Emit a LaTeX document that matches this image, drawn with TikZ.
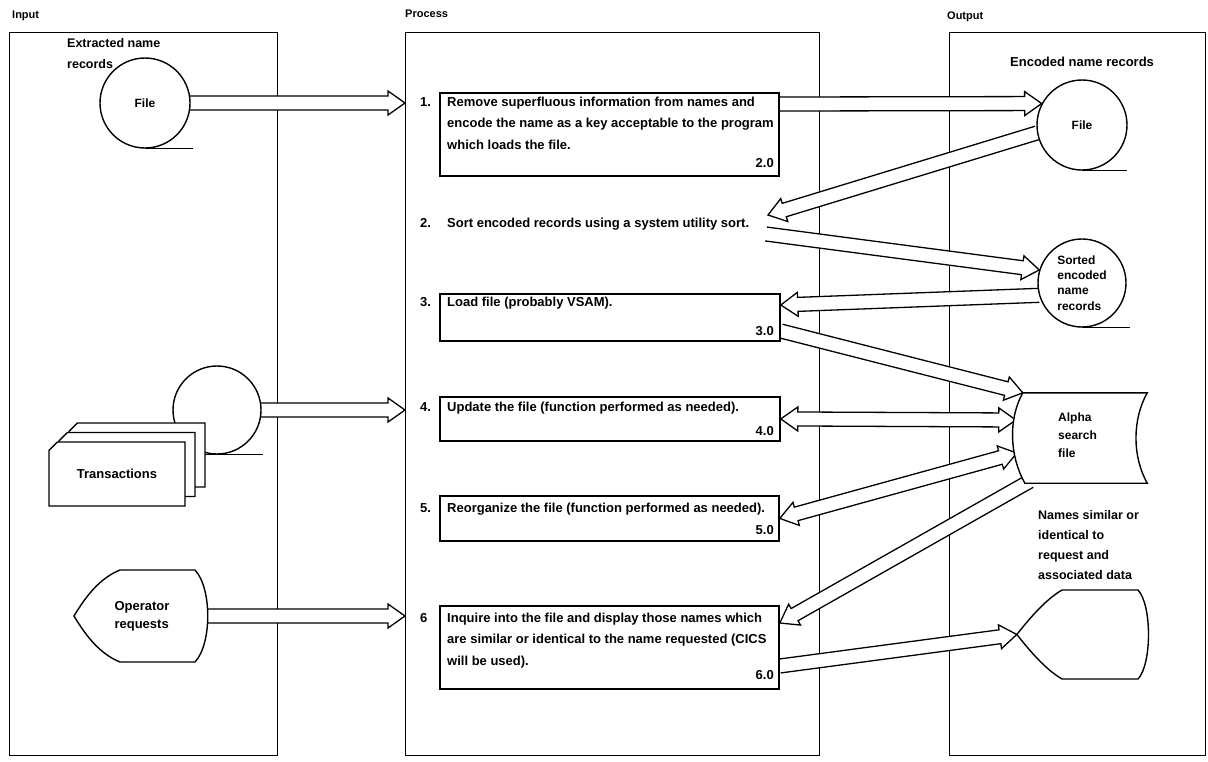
\documentclass[tikz,border=0pt]{standalone}
\usepackage{fontspec}
\setmainfont{Liberation Sans}
\usetikzlibrary{calc,positioning,shapes.misc,shadows,backgrounds}

% hollow arrow from #1 to tip #2
\newcommand{\fatarrow}[2]{%
  \draw[fatline] ($(#1)!7pt!90:(#2)$) -- ($($(#2)!17pt!(#1)$)!7pt!90:(#2)$)
    -- ($($(#2)!17pt!(#1)$)!12pt!90:(#2)$) -- (#2)
    -- ($($(#2)!17pt!(#1)$)!12pt!-90:(#2)$) -- ($($(#2)!17pt!(#1)$)!7pt!-90:(#2)$)
    -- ($(#1)!7pt!-90:(#2)$);}
% hollow arrow with a head at both ends
\newcommand{\fatarrows}[2]{%
  \draw[fatline] (#1) -- ($($(#1)!17pt!(#2)$)!12pt!90:(#2)$) -- ($($(#1)!17pt!(#2)$)!7pt!90:(#2)$)
    -- ($($(#2)!17pt!(#1)$)!7pt!90:(#2)$) -- ($($(#2)!17pt!(#1)$)!12pt!90:(#2)$) -- (#2)
    -- ($($(#2)!17pt!(#1)$)!12pt!-90:(#2)$) -- ($($(#2)!17pt!(#1)$)!7pt!-90:(#2)$)
    -- ($($(#1)!17pt!(#2)$)!7pt!-90:(#2)$) -- ($($(#1)!17pt!(#2)$)!12pt!-90:(#2)$) -- cycle;}

\begin{document}
\begin{tikzpicture}[x=1pt, y=-1pt,
    panel/.style={draw, line width=1.4pt, anchor=north west, inner sep=0pt},
    procbox/.style={draw, line width=1.8pt, fill=white, anchor=north west, inner sep=0pt},
    txt/.style={font=\fontsize{13}{21.5}\selectfont\bfseries, inner sep=0pt, anchor=base west, align=left},
    title/.style={font=\fontsize{11}{13}\selectfont\bfseries, inner sep=0pt, anchor=base west},
    store/.style={draw, circle, line width=1.4pt, fill=white, inner sep=0pt, align=left,
      font=\fontsize{12}{15.3}\selectfont\bfseries},
    tape/.style={line width=1.4pt},
    outline/.style={draw, line width=1.4pt, fill=white},
    fatline/.style={draw, line width=1.3pt, fill=white, line join=miter},
    card/.style={draw, fill=white, line width=1.4pt, chamfered rectangle,
      chamfered rectangle corners=north west, chamfered rectangle xsep=10pt,
      minimum width=136pt, minimum height=64pt, inner sep=0pt,
      font=\fontsize{13}{15}\selectfont\bfseries}]
  \useasboundingbox (0,0) rectangle (1208,761);

  % columns
  \begin{scope}[on background layer]
    \node[panel, minimum width=268pt, minimum height=723pt] (inp) at (9,32) {};
    \node[panel, minimum width=414pt, minimum height=723pt] (prc) at (405,32) {};
    \node[panel, minimum width=256pt, minimum height=723pt] (outp) at (949,32) {};
  \end{scope}
  \node[title] at (12,18) {Input};
  \node[title] at (405,17) {Process};
  \node[title] at (947,19) {Output};

  % input side
  \node[store, minimum size=90pt] (fi) at (145,103) {File};
  \draw[tape] (fi.south) -- ++(48,0);
  \node[txt, font=\fontsize{12.5}{21}\selectfont\bfseries] at (67,68) {Extracted name\\records};

  \node[store, minimum size=88pt] (tf) at (217,410) {};
  \draw[tape] ([xshift=-14pt]tf.south) -- ++(60,0);
  \node[card, copy shadow={shadow xshift=20pt, shadow yshift=19pt, fill=white, draw, line width=1.4pt},
    copy shadow={shadow xshift=10pt, shadow yshift=9.5pt, fill=white, draw, line width=1.4pt}]
    (tr) at (117,474) {Transactions};

  \draw[outline] (74,616) .. controls (86,596) and (100,578) .. (120,570) -- (195,570)
    .. controls (212,588) and (212,644) .. (195,662) -- (120,662)
    .. controls (100,654) and (86,636) .. cycle;
  \node[align=left, font=\fontsize{13}{18}\selectfont\bfseries, minimum width=136pt, minimum height=92pt] (opr) at (142,616) {Operator\\requests};

  % process steps
  \node[procbox, minimum width=339pt, minimum height=83pt] (b1) at (439,92) {};
  \node[txt] at (420,106) {1.};
  \node[txt] at (447,149) {Remove superfluous information from names and\\encode the name as a key acceptable to the program\\which loads the file.};
  \node[txt, anchor=base east] at (774,167) {2.0};

  \node[txt] at (420,227) {2.};
  \node[txt] (s2) at (447,227) {Sort encoded records using a system utility sort.};
  \coordinate (s2in) at (768,215);
  \coordinate (s2out) at (766,234);

  \node[procbox, minimum width=340pt, minimum height=47pt] (b3) at (439,293) {};
  \node[txt] at (420,306) {3.};
  \node[txt] at (447,306) {Load file (probably VSAM).};
  \node[txt, anchor=base east] at (774,335) {3.0};

  \node[procbox, minimum width=340pt, minimum height=44pt] (b4) at (439,396) {};
  \node[txt] at (420,411) {4.};
  \node[txt] at (447,411) {Update the file (function performed as needed).};
  \node[txt, anchor=base east] at (774,435) {4.0};

  \node[procbox, minimum width=339pt, minimum height=45pt] (b5) at (439,495) {};
  \node[txt] at (420,512) {5.};
  \node[txt] at (447,512) {Reorganize the file (function performed as needed).};
  \node[txt, anchor=base east] at (774,534) {5.0};

  \node[procbox, minimum width=339pt, minimum height=83pt] (b6) at (439,605) {};
  \node[txt] at (420,622) {6};
  \node[txt] at (447,665) {Inquire into the file and display those names which\\are similar or identical to the name requested (CICS\\will be used).};
  \node[txt, anchor=base east] at (774,679) {6.0};

  % output side
  \node[txt] at (1010,66) {Encoded name records};
  \node[store, minimum size=90pt] (of) at (1082,125) {File};
  \draw[tape] (of.south) -- ++(45,0);
  \node[store, minimum size=88pt] (sc) at (1082,283) {Sorted\\encoded\\name\\records};
  \draw[tape] (sc.south) -- ++(48,0);

  \node[minimum width=124pt, minimum height=90pt, inner sep=0pt] (af) at (1085,438) {};
  \draw[outline] (af.north west) -- (af.north east)
    .. controls ([xshift=-15pt,yshift=-27pt]af.north east) and ([xshift=-15pt,yshift=27pt]af.south east) .. (af.south east)
    -- ([xshift=2pt]af.south west)
    .. controls ([xshift=-13pt,yshift=27pt]af.south west) and ([xshift=-15pt,yshift=-27pt]af.north west) .. cycle;
  \node[txt, font=\fontsize{12}{18}\selectfont\bfseries] at (1058,457) {Alpha\\search\\file};

  \node[txt, font=\fontsize{12.5}{20}\selectfont\bfseries] at (1038,579) {Names similar or\\identical to\\request and\\associated data};
  \node[minimum width=133pt, minimum height=89pt, inner sep=0pt] (disp) at (1083.5,634.5) {};
  \draw[outline] (disp.west) .. controls (1030,618) and (1045,600) .. (1062,590) -- (1138,590)
    .. controls (1152,605) and (1152,664) .. (1138,679) -- (1062,679)
    .. controls (1045,669) and (1030,651) .. cycle;

  % flows
  \begin{scope}[on background layer]
    \fatarrow{[xshift=-3pt]fi.east}{fi.east -| prc.west}
    \fatarrow{[xshift=-3pt]tf.east}{tf.east -| prc.west}
    \fatarrow{[xshift=-3pt]opr.east}{opr.east -| prc.west}
    \fatarrow{[yshift=-12pt]b1.north east}{of.152}
    \fatarrow{of.190}{s2in}
    \fatarrow{s2out}{sc.163}
    \fatarrow{sc.196}{[yshift=-12pt]b3.north east}
    \fatarrow{[yshift=-38pt]b3.north east}{af.north west}
    \fatarrows{b4.east}{[xshift=-7pt,yshift=18pt]af.west}
    \fatarrows{b5.east}{[xshift=-6pt,yshift=-15pt]af.west}
    \fatarrow{[xshift=7pt,yshift=2pt]af.south west}{[yshift=-18pt]b6.north east}
    \fatarrow{[yshift=-61pt]b6.north east}{disp.west}
  \end{scope}
\end{tikzpicture}
\end{document}
